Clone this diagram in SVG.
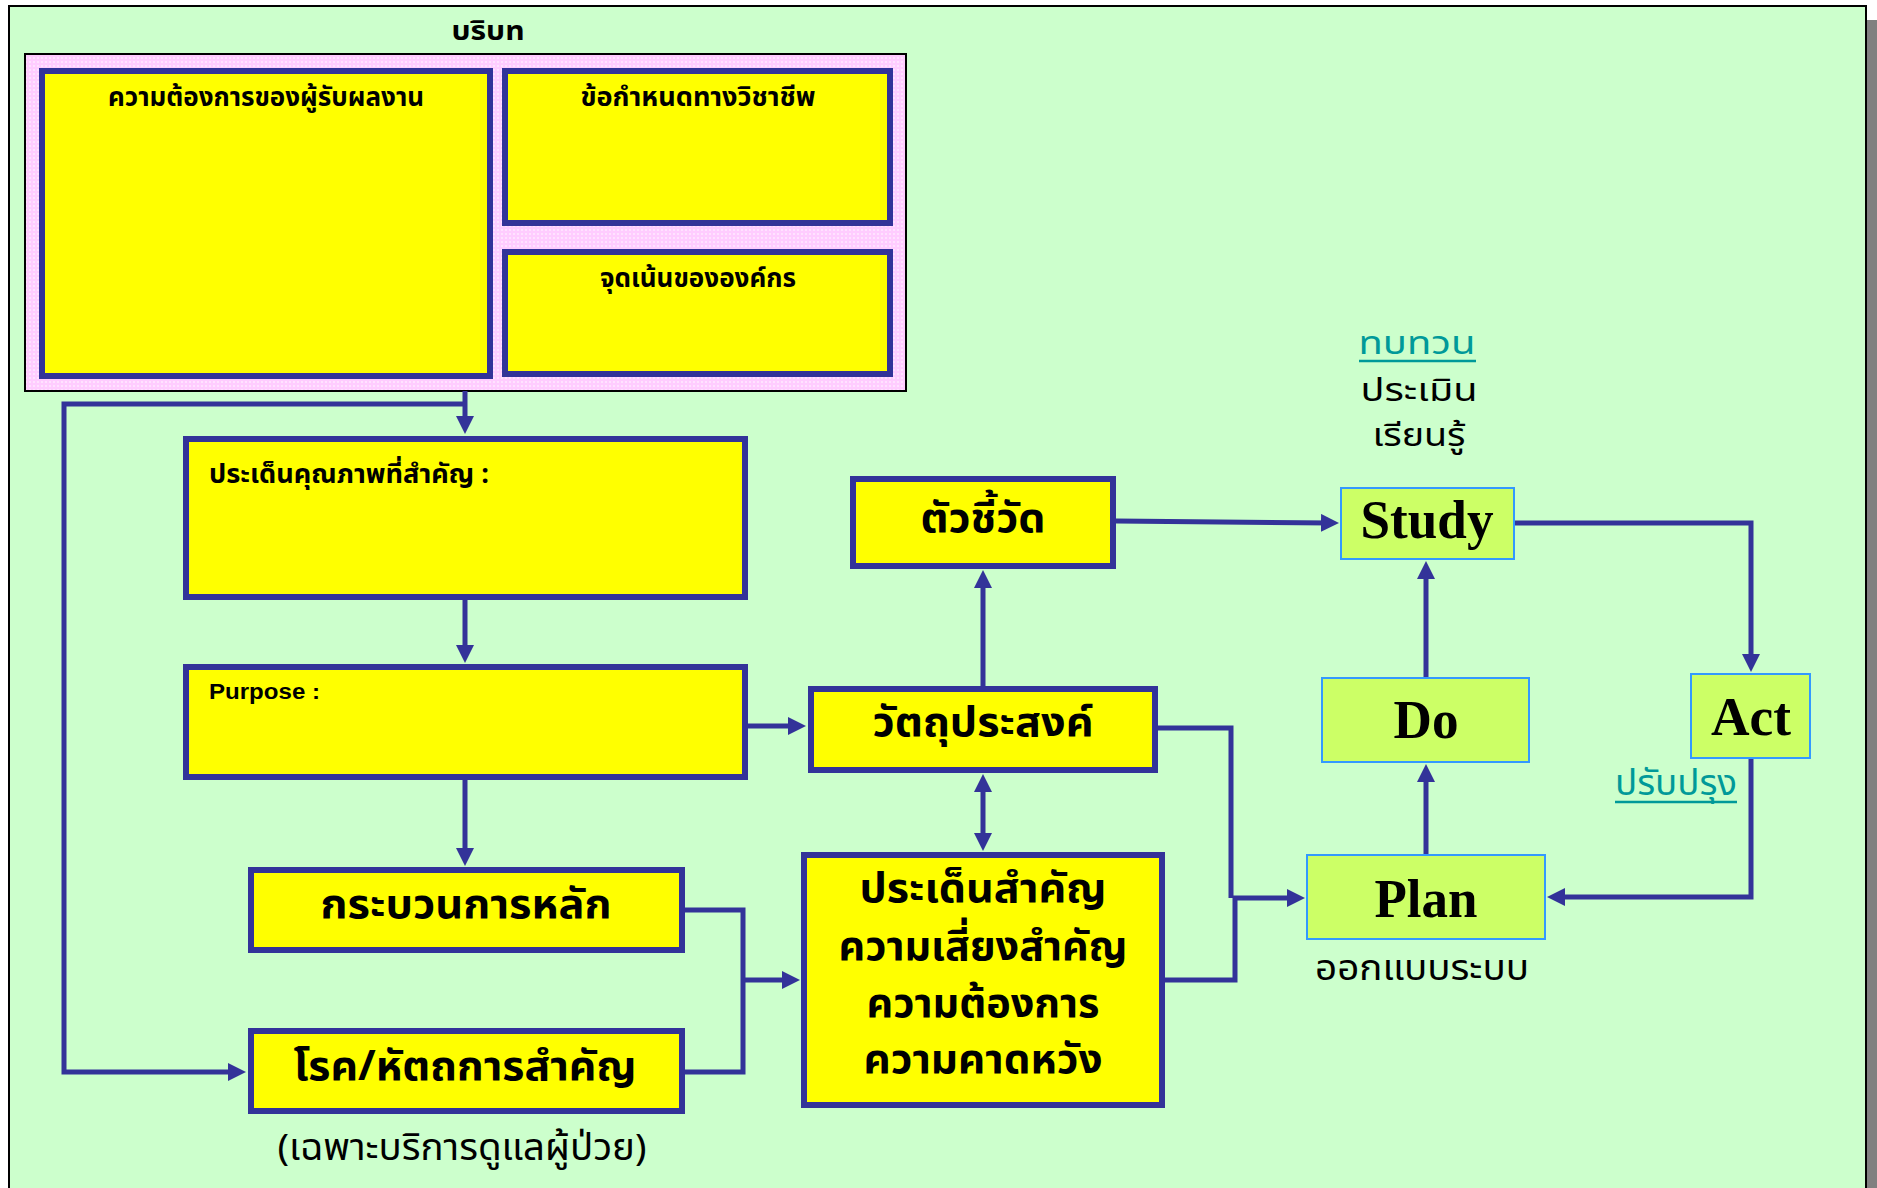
<svg xmlns="http://www.w3.org/2000/svg" width="1877" height="1188" viewBox="0 0 1877 1188">
<defs>
<pattern id="dots" x="0" y="0" width="4" height="4" patternUnits="userSpaceOnUse">
<rect width="4" height="4" fill="#FFCCFF"/>
<circle cx="2" cy="2" r="0.8" fill="#FFFFFF"/>
</pattern>
<marker id="ah" viewBox="0 0 18 18" refX="10" refY="9" markerWidth="18" markerHeight="18" markerUnits="userSpaceOnUse" orient="auto-start-reverse">
<path d="M0,0 L18,9 L0,18 z" fill="#333399"/>
</marker>
<style>
.yb{fill:#FFFF00;stroke:#333399;stroke-width:6}
.gb{fill:#CCFF66;stroke:#3399FF;stroke-width:2}
.c{fill:none;stroke:#333399;stroke-width:5}
.a{marker-end:url(#ah)}
.th{font-family:'Noto Sans Thai','Noto Sans Thai UI','Loma','Garuda','Noto Sans',sans-serif;fill:#000}
.b{font-weight:bold}
.sm{font-size:26px}
.lg{font-size:41px}
.nm{font-size:35px}
.st{font-size:32px}
.teal{fill:#009999}
.tm{font-family:'Liberation Serif',serif;font-weight:bold;font-size:54px;fill:#000}
.ar{font-family:'Liberation Sans',sans-serif;font-weight:bold;font-size:22px;fill:#000}
</style>
</defs>
<rect x="0" y="0" width="1877" height="1188" fill="#FFFFFF"/>
<rect x="1867" y="20" width="10" height="1180" fill="#808080"/>
<rect x="9" y="6" width="1857" height="1200" fill="#CCFFCC" stroke="#000" stroke-width="2"/>

<g id="context">
<text class="th b" x="488" y="40" font-size="27" text-anchor="middle" textLength="73" lengthAdjust="spacingAndGlyphs">บริบท</text>
<rect x="25" y="54" width="881" height="337" fill="url(#dots)" stroke="#000" stroke-width="2"/>
</g>
<g id="customer-needs">
<rect class="yb" x="42" y="71" width="448" height="305"/>
<text class="th b sm" x="266" y="106" text-anchor="middle" textLength="316" lengthAdjust="spacingAndGlyphs">ความต้องการของผู้รับผลงาน</text>
</g>
<g id="professional-req">
<rect class="yb" x="505" y="71" width="385" height="152"/>
<text class="th b sm" x="698" y="106" text-anchor="middle" textLength="235" lengthAdjust="spacingAndGlyphs">ข้อกำหนดทางวิชาชีพ</text>
</g>
<g id="org-focus">
<rect class="yb" x="505" y="252" width="385" height="122"/>
<text class="th b sm" x="698" y="287" text-anchor="middle" textLength="196" lengthAdjust="spacingAndGlyphs">จุดเน้นขององค์กร</text>
</g>
<g id="quality-issues">
<rect class="yb" x="186" y="439" width="559" height="158"/>
<text class="th b sm" x="209" y="483" textLength="280" lengthAdjust="spacingAndGlyphs">ประเด็นคุณภาพที่สำคัญ :</text>
</g>
<g id="purpose">
<rect class="yb" x="186" y="667" width="559" height="110"/>
<text class="ar" x="209" y="699" textLength="111" lengthAdjust="spacingAndGlyphs">Purpose :</text>
</g>
<g id="main-process">
<rect class="yb" x="251" y="870" width="431" height="80"/>
<text class="th b lg" x="466" y="918" text-anchor="middle" textLength="291" lengthAdjust="spacingAndGlyphs">กระบวนการหลัก</text>
</g>
<g id="diseases">
<rect class="yb" x="251" y="1031" width="431" height="80"/>
<text class="th b lg" x="465" y="1080" text-anchor="middle" textLength="343" lengthAdjust="spacingAndGlyphs">โรค/หัตถการสำคัญ</text>
<text class="th" x="462" y="1160" font-size="37" text-anchor="middle" textLength="369" lengthAdjust="spacingAndGlyphs">(เฉพาะบริการดูแลผู้ป่วย)</text>
</g>
<g id="indicators">
<rect class="yb" x="853" y="479" width="260" height="87"/>
<text class="th b lg" x="983" y="532" text-anchor="middle" textLength="125" lengthAdjust="spacingAndGlyphs">ตัวชี้วัด</text>
</g>
<g id="objectives">
<rect class="yb" x="811" y="689" width="344" height="81"/>
<text class="th b lg" x="983" y="736" text-anchor="middle" textLength="221" lengthAdjust="spacingAndGlyphs">วัตถุประสงค์</text>
</g>
<g id="key-issues">
<rect class="yb" x="804" y="855" width="358" height="250"/>
<text class="th b lg" x="983" y="902" text-anchor="middle" textLength="247" lengthAdjust="spacingAndGlyphs">ประเด็นสำคัญ</text>
<text class="th b lg" x="983" y="960" text-anchor="middle" textLength="289" lengthAdjust="spacingAndGlyphs">ความเสี่ยงสำคัญ</text>
<text class="th b lg" x="983" y="1017" text-anchor="middle" textLength="233" lengthAdjust="spacingAndGlyphs">ความต้องการ</text>
<text class="th b lg" x="983" y="1073" text-anchor="middle" textLength="239" lengthAdjust="spacingAndGlyphs">ความคาดหวัง</text>
</g>
<g id="study">
<rect class="gb" x="1341" y="488" width="173" height="71"/>
<text class="tm" x="1427" y="538" text-anchor="middle" textLength="133" lengthAdjust="spacingAndGlyphs">Study</text>
<text class="th st teal" x="1417" y="354" text-anchor="middle" textLength="117" lengthAdjust="spacingAndGlyphs">ทบทวน</text>
<line x1="1359" y1="361" x2="1476" y2="361" stroke="#009999" stroke-width="2.5"/>
<text class="th st" x="1419" y="401" text-anchor="middle" textLength="117" lengthAdjust="spacingAndGlyphs">ประเมิน</text>
<text class="th st" x="1419" y="446" text-anchor="middle" textLength="93" lengthAdjust="spacingAndGlyphs">เรียนรู้</text>
</g>
<g id="do">
<rect class="gb" x="1322" y="678" width="207" height="84"/>
<text class="tm" x="1426" y="738" text-anchor="middle" textLength="65" lengthAdjust="spacingAndGlyphs">Do</text>
</g>
<g id="act">
<rect class="gb" x="1691" y="674" width="119" height="84"/>
<text class="tm" x="1751" y="735" text-anchor="middle" textLength="80" lengthAdjust="spacingAndGlyphs">Act</text>
<text class="th nm teal" x="1676" y="795" text-anchor="middle" textLength="122" lengthAdjust="spacingAndGlyphs">ปรับปรุง</text>
<line x1="1615" y1="802" x2="1737" y2="802" stroke="#009999" stroke-width="2.5"/>
</g>
<g id="plan">
<rect class="gb" x="1307" y="855" width="238" height="84"/>
<text class="tm" x="1426" y="917" text-anchor="middle" textLength="103" lengthAdjust="spacingAndGlyphs">Plan</text>
<text class="th" x="1422" y="980" font-size="36" text-anchor="middle" textLength="214" lengthAdjust="spacingAndGlyphs">ออกแบบระบบ</text>
</g>

<g id="connectors">
<path class="c a" d="M465 391 V426"/>
<path class="c a" d="M465 404 H64 V1072 H238"/>
<path class="c a" d="M465 600 V655"/>
<path class="c a" d="M465 780 V858"/>
<path class="c a" d="M748 726 H798"/>
<path class="c" d="M685 910 H743 V1072 H685"/>
<path class="c a" d="M743 980 H792"/>
<path class="c a" d="M983 686 V578"/>
<path class="c a" d="M983 782 V843" marker-start="url(#ah)"/>
<path class="c a" d="M1116 521 L1331 523"/>
<path class="c" d="M1158 728 H1231 V898"/>
<path class="c a" d="M1165 980 H1235 V898 H1297"/>
<path class="c a" d="M1426 854 V772"/>
<path class="c a" d="M1426 677 V569"/>
<path class="c a" d="M1515 523 H1751 V664"/>
<path class="c a" d="M1751 759 V897 H1555"/>
</g>
</svg>
